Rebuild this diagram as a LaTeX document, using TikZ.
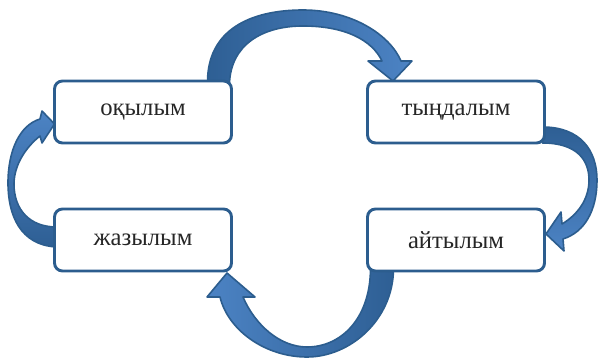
\documentclass[tikz,border=0pt]{standalone}
\usepackage{fontspec}
\setmainfont{Liberation Serif}
\usepackage{tikz}
\usetikzlibrary{positioning, calc, backgrounds}
\definecolor{boxline}{HTML}{2C5D8E}
\definecolor{arrowdark}{HTML}{2E5F94}
\definecolor{arrowlight}{HTML}{4C83C4}

\begin{document}
\begin{tikzpicture}[x=0.75pt, y=-0.75pt, font=\fontsize{18.5}{22}\selectfont,
        skill/.style={draw=boxline, line width=2.2pt, rounded corners=6pt, fill=white, outer sep=0pt,
            text=black!85, minimum width=132.75pt, minimum height=46.5pt},
        bigarrow/.style={draw=boxline, line width=1.2pt, line join=round}]
        \useasboundingbox (0,0) rectangle (598,359);

        % Top row
        \node[skill] (read) at (143,112) {оқылым};
        \node[skill, right=102pt of read] (listen) {тыңдалым};

        % Bottom row
        \node[skill, below=49.5pt of read] (write) {жазылым};
        \node[skill, below=49.5pt of listen] (speak) {айтылым};

        \begin{scope}[on background layer]
        % Top arrow: read -> listen
        \path[bigarrow, left color=arrowdark, right color=arrowlight]
            ($(read.north east)+(-24,2)$) .. controls (207,30) and (250,10) .. (303,10)
            .. controls (352,10) and (390,35) .. (401,61)
            -- (412,61) -- ($(listen.north west)+(25.5,0)$) -- (368,61) -- (382,61)
            .. controls (372,40) and (345,26) .. (303,26)
            .. controls (262,26) and (231,45) .. ($(read.north east)+(-2,2)$) -- cycle;

        % Right arrow: listen -> speak
        \path[bigarrow, top color=arrowdark, bottom color=arrowlight]
            ($(listen.south east)+(-2,-16)$) .. controls (580,127) and (597,150) .. (597,180)
            .. controls (597,210) and (585,232) .. (563,239)
            -- (564,251) -- ($(speak.east)+(1.5,-6)$) -- (561,212) -- (562,224)
            .. controls (577,215) and (589,200) .. (589,180)
            .. controls (589,160) and (577,143) .. ($(listen.south east)+(-2,0)$) -- cycle;

        % Bottom arrow: speak -> write
        \path[bigarrow, left color=arrowlight, right color=arrowdark]
            ($(speak.south west)+(26,-2)$) .. controls (393,320) and (350,357) .. (307,357)
            .. controls (265,357) and (228,330) .. (220,297)
            -- (207,297) -- ($(write.south east)+(-4.5,2)$) -- (255,297) -- (243,297)
            .. controls (255,325) and (280,347) .. (307,347)
            .. controls (340,347) and (370,320) .. ($(speak.south west)+(3,-2)$) -- cycle;

        % Left arrow: write -> read
        \path[bigarrow, top color=arrowlight, bottom color=arrowdark]
            ($(write.west)+(2,7)$) .. controls (20,245) and (8,215) .. (8,183)
            .. controls (8,150) and (20,125) .. (40,119)
            -- (42,111) -- ($(read.west)+(0,12)$) -- (42,143) -- (40,136)
            .. controls (26,147) and (14,165) .. (14,184)
            .. controls (14,210) and (30,227) .. ($(write.west)+(2,-13)$) -- cycle;
        \end{scope}
    \end{tikzpicture}
\end{document}
